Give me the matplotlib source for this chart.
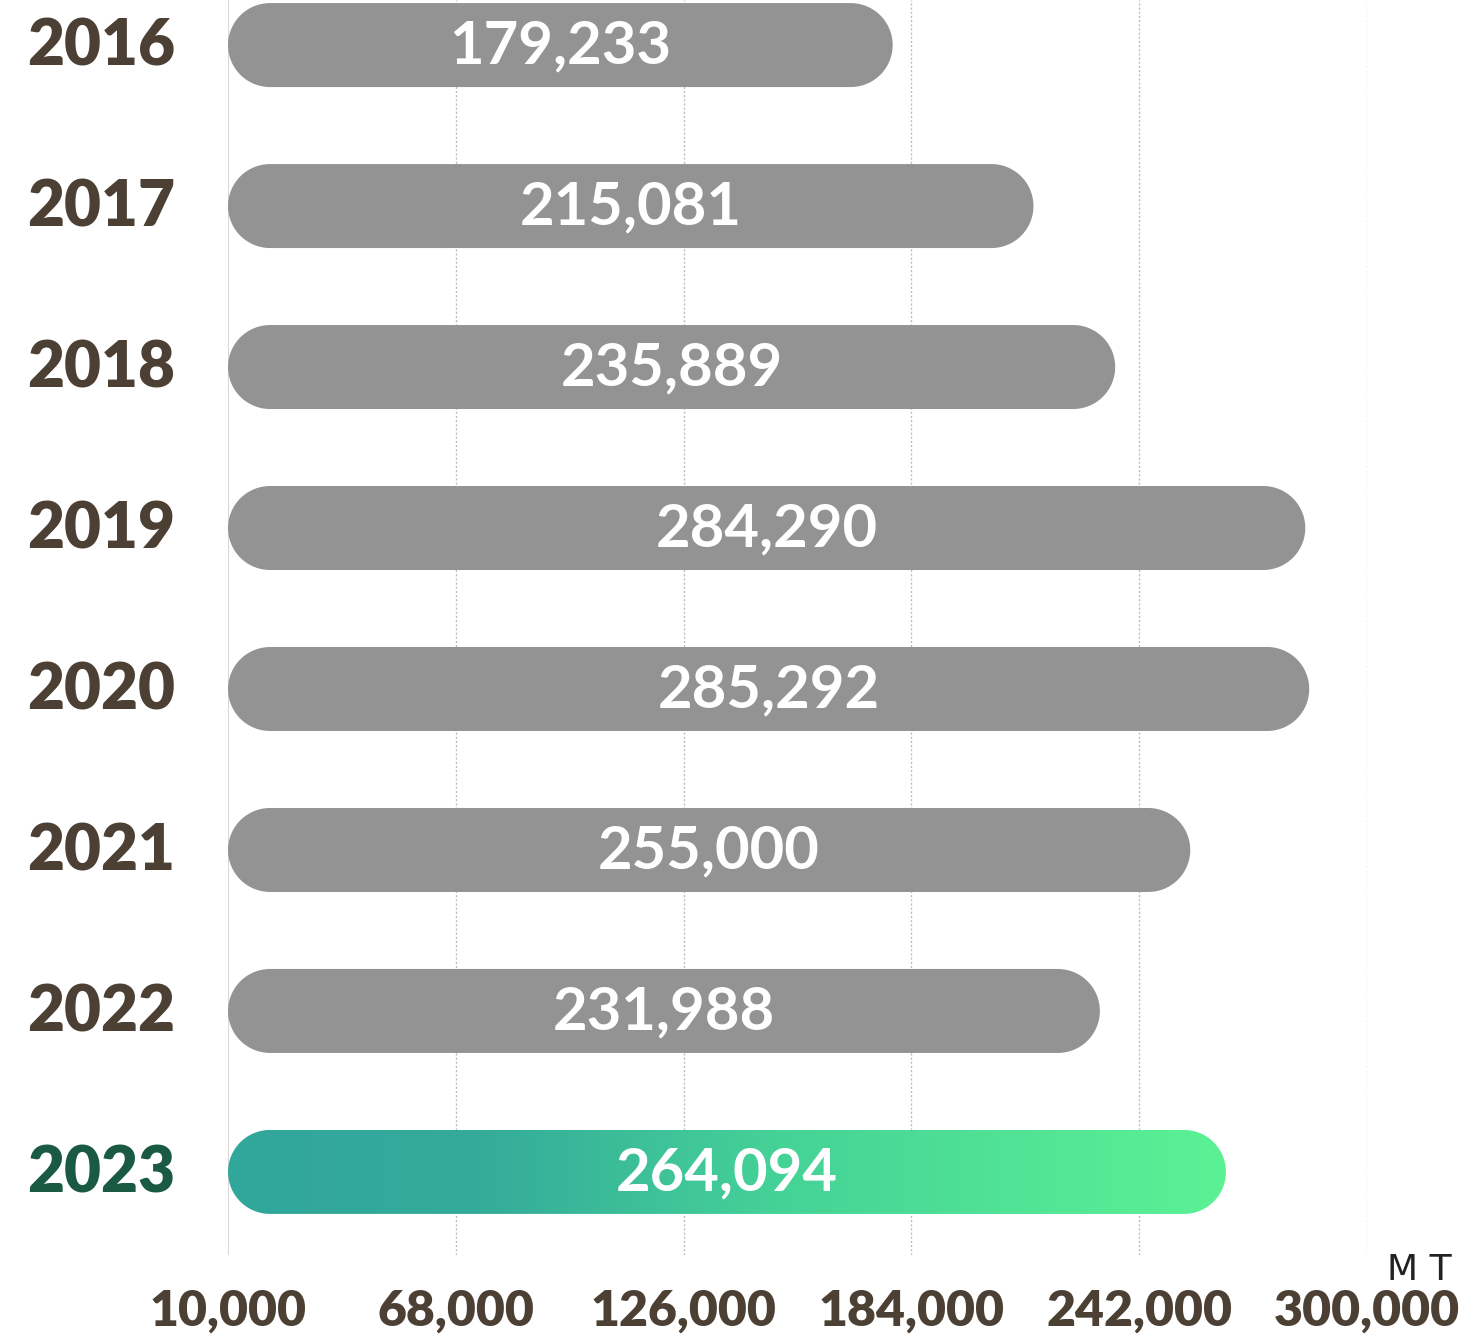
import numpy as np
import matplotlib.pyplot as plt
from matplotlib.patches import Polygon
from matplotlib.colors import LinearSegmentedColormap

years = ["2016", "2017", "2018", "2019", "2020", "2021", "2022", "2023"]
values = [179233, 215081, 235889, 284290, 285292, 255000, 231988, 264094]
ticks = [10000, 68000, 126000, 184000, 242000, 300000]
unit = "MT"

BROWN = "#4b4033"
GREEN_TXT = "#1a5a42"
GRAY = "#939393"

fig = plt.figure(figsize=(14.61, 13.34), dpi=100)
ax = fig.add_axes([228 / 1461, 79 / 1334, 1139 / 1461, 1255 / 1334])
x0, x1 = ticks[0], ticks[-1]
ax.set_xlim(x0, x1)
ax.set_ylim(len(years) - 1 + 0.516, -0.28)

# pixel sizes -> data units, so the rounded ends stay round
px_x = (x1 - x0) / 1139
px_y = 1 / 161
r_y = 42 * px_y
r_x = 42 * px_x


def pill(xa, xb, yc):
    """左右が半円のバー形状"""
    a = np.linspace(-np.pi / 2, np.pi / 2, 40)
    right = np.column_stack([xb - r_x + r_x * np.cos(a), yc + r_y * np.sin(a)])
    a2 = np.linspace(np.pi / 2, 3 * np.pi / 2, 40)
    left = np.column_stack([xa + r_x + r_x * np.cos(a2), yc + r_y * np.sin(a2)])
    return np.vstack([right, left])


cmap = LinearSegmentedColormap.from_list(
    "g", [(0, "#31a69b"), (0.25, "#34ab9a"), (0.55, "#45d297"), (1, "#5bf294")])

for i, (yr, v) in enumerate(zip(years, values)):
    last = i == len(years) - 1
    box = Polygon(pill(x0, v, i), closed=True, fc=GRAY, ec="none", zorder=3)
    ax.add_patch(box)
    if last:
        box.set_facecolor("none")
        grad = np.linspace(0, 1, 256).reshape(1, -1)
        im = ax.imshow(grad, cmap=cmap, aspect="auto", zorder=3,
                       extent=(x0, v, i + r_y, i - r_y))
        im.set_clip_path(box)
    ax.text((x0 + v) / 2, i + 0.01, f"{v:,}", color="white", fontsize=43,
            fontweight="bold", family="Lato", ha="center", va="center",
            zorder=4)
    fig.text(27 / 1461, 1 - (47 + 161 * i) / 1334, yr,
             color=GREEN_TXT if last else BROWN, fontsize=46,
             fontweight="heavy", family="Lato", ha="left", va="center")

for t in ticks[1:]:
    ax.axvline(t, color="#bdbdbd", lw=1, ls=(0, (1.5, 1.5)), zorder=1)
ax.axvline(x0, color="#cfcfcf", lw=1.2, zorder=1)

for s in ax.spines.values():
    s.set_visible(False)
ax.set_yticks([])
ax.set_xticks([])

for t in ticks:
    fig.text((228 + (t - x0) / px_x) / 1461, 1 - 1311 / 1334, f"{t:,}",
             color=BROWN, fontsize=36, fontweight="heavy", family="Lato",
             ha="center", va="center")
fig.text(1452 / 1461, 1 - 1270 / 1334, " ".join(unit), color="#222222",
         fontsize=26, family="DejaVu Sans", fontweight="normal",
         ha="right", va="center")

fig.savefig("out.png", dpi=100, facecolor="white")
